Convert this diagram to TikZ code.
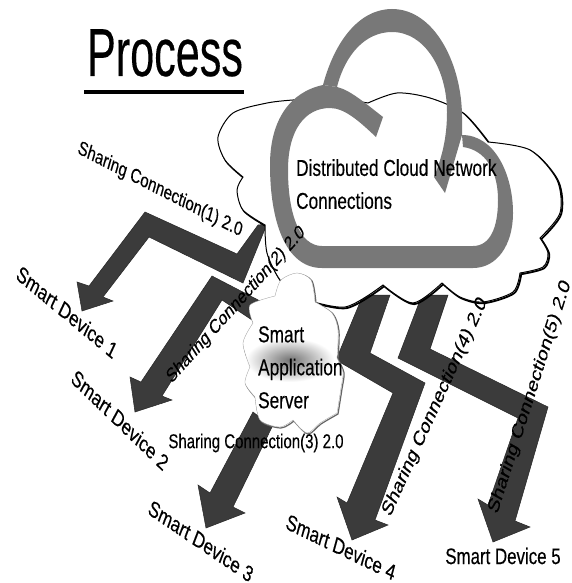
\documentclass[tikz,border=0pt]{standalone}
\usepackage{fontspec}
\setmainfont[FakeBold=0.3]{Liberation Sans}
\usepackage{xcolor}
\definecolor{logogrey}{gray}{0.47}
\definecolor{arrowgrey}{gray}{0.23}
\tikzset{
	squeezed/.style={inner sep=0pt,xscale=0.75},
	sharelabel/.style={squeezed,font=\fontsize{20}{24}\selectfont},
	devicelabel/.style={squeezed,font=\fontsize{22.5}{26}\selectfont},
	cloudlabel/.style={squeezed,align=left,font=\fontsize{23}{33}\selectfont},
	bigarrow/.style={fill=arrowgrey,draw=black!85,line width=0.5pt,line join=miter}
}
% outline of the large cloud
\newcommand{\maincloud}{
	plot [smooth] coordinates {(265,225) (243,210) (237,190) (243,177)}
	-- plot [smooth] coordinates {(243,177) (225,160) (218,137) (233,113) (267,103) (293,100)}
	-- plot [smooth] coordinates {(293,100) (330,98) (368,103)}
	-- plot [smooth] coordinates {(368,103) (397,93) (430,98) (463,113) (488,142)}
	-- plot [smooth] coordinates {(488,142) (530,150) (557,180) (560,213) (540,238)}
	-- plot [smooth] coordinates {(540,238) (548,253) (543,267) (520,273)}
	-- plot [smooth] coordinates {(520,273) (513,292) (483,302) (460,297) (442,283)}
	-- plot [smooth] coordinates {(442,283) (413,303) (383,285)}
	-- plot [smooth] coordinates {(383,285) (345,307) (300,298)}
	-- plot [smooth] coordinates {(300,298) (280,280) (267,253) (265,225)}
	-- cycle}
% outline of the small cloud
\newcommand{\servercloud}{
	plot [smooth] coordinates {(275,296) (281,280) (297,273) (311,280) (315,302)}
	-- plot [smooth] coordinates {(315,302) (332,313) (338,330) (337,358)}
	-- plot [smooth] coordinates {(337,358) (343,372) (341,388) (337,413)}
	-- plot [smooth] coordinates {(337,413) (320,423) (307,433) (293,420)}
	-- plot [smooth] coordinates {(293,420) (280,427) (260,420) (255,397)}
	-- plot [smooth] coordinates {(255,397) (245,383) (250,367)}
	-- plot [smooth] coordinates {(250,367) (243,343) (253,323)}
	-- plot [smooth] coordinates {(253,323) (250,305) (275,296)}
	-- cycle}

\begin{document}
\begin{tikzpicture}[x=1pt,y=-1pt]
	\useasboundingbox (0,0) rectangle (571,583);
	\fill[white] (0,0) rectangle (571,583);

	% Title:
	\node[inner sep=0pt,xscale=0.635,anchor=base,font=\fontsize{68}{70}\selectfont] (title) at (165,76) {Process};
	\draw[line width=4.5pt] (84,92) -- (244,92);

	% Bent arrows, from the clouds to the devices:
	\draw[bigarrow] (267,224) -- (258,225) -- (237,254) -- (145,212) -- (89,286) -- (77,282)
		-- (82,311) -- (113,301) -- (103,297) -- (149,237) -- (243,283) -- cycle;
	\draw[bigarrow] (212,276) -- (262,302) -- (252,320) -- (222,300) -- (162,396) -- (172,400)
		-- (135,412) -- (130,377) -- (141,382) -- cycle;
	\draw[bigarrow] (253,412) -- (210,493) -- (198,485) -- (206,528) -- (245,513) -- (233,507)
		-- (272,427) -- cycle;
	\draw[bigarrow] (363,295) -- (336,360) -- (393,393) -- (347,503) -- (337,497) -- (352,540)
		-- (388,525) -- (375,520) -- (425,383) -- (370,353) -- (390,295) -- cycle;
	\draw[bigarrow] (422,295) -- (398,358) -- (518,418) -- (488,505) -- (478,499) -- (493,542)
		-- (530,527) -- (515,521) -- (548,407) -- (430,349) -- (448,295) -- cycle;

	% Large cloud, with its shadow:
	\begin{scope}[shift={(1.2,1.2)}]
		\draw[line width=1.8pt,black] \maincloud;
	\end{scope}
	\fill[white] \maincloud;
	\draw[line width=1pt] \maincloud;

	% Grey cloud sign:
	\fill[logogrey] (323,85) .. controls (290,92) and (270,120) .. (270,165)
		.. controls (270,220) and (285,268) .. (322,268) -- (473,268)
		.. controls (497,268) and (513,245) .. (513,213)
		.. controls (513,175) and (495,135) .. (462,135) -- (463,147)
		.. controls (485,150) and (498,170) .. (498,200)
		.. controls (498,228) and (490,246) .. (473,246) -- (322,246)
		.. controls (300,246) and (288,215) .. (288,170)
		.. controls (288,130) and (305,108) .. (330,108)
		.. controls (345,108) and (360,122) .. (376,137) -- (383,117)
		.. controls (365,103) and (350,90) .. (337,87) -- cycle;
	\fill[logogrey] (323,85) .. controls (335,40) and (360,9) .. (392,9)
		.. controls (435,9) and (462,65) .. (462,117)
		-- (462,135) -- (445,193) -- (434,177)
		.. controls (443,155) and (447,135) .. (447,112)
		.. controls (447,70) and (425,32) .. (392,32)
		.. controls (365,32) and (345,55) .. (337,87) -- cycle;

	% Small cloud:
	\begin{scope}[shift={(1,1)}]
		\draw[line width=1.2pt,black!60] \servercloud;
	\end{scope}
	\fill[white] \servercloud;
	\shade[inner color=black!55,outer color=white] (290,360) ellipse (44 and 22);
	\draw[line width=0.3pt,black!40] \servercloud;

	% Labels:
	\node[cloudlabel,anchor=north west] (cloudtext) at (296,159) {Distributed Cloud Network\\Connections};
	\node[cloudlabel,anchor=north west] (servertext) at (258,326) {Smart\\Application\\Server};

	\node[sharelabel,rotate=-21] (share1) at (160,190) {Sharing Connection(1) 2.0};
	\node[sharelabel,rotate=40] (share2) at (236,305) {Sharing Connection(2) 2.0};
	\node[sharelabel] (share3) at (256,443) {Sharing Connection(3) 2.0};
	\node[sharelabel,rotate=59,font=\fontsize{21.5}{26}\selectfont] (share4) at (435,407) {Sharing Connection(4) 2.0};
	\node[sharelabel,rotate=67,font=\fontsize{21.5}{26}\selectfont] (share5) at (530,397) {Sharing Connection(5) 2.0};

	\node[devicelabel,rotate=-32] (device1) at (67,312) {Smart Device 1};
	\node[devicelabel,rotate=-36] (device2) at (120,420) {Smart Device 2};
	\node[devicelabel,rotate=-27] (device3) at (201,541) {Smart Device 3};
	\node[devicelabel,rotate=-20] (device4) at (341,547) {Smart Device 4};
	\node[devicelabel] (device5) at (503,556) {Smart Device 5};
\end{tikzpicture}
\end{document}
